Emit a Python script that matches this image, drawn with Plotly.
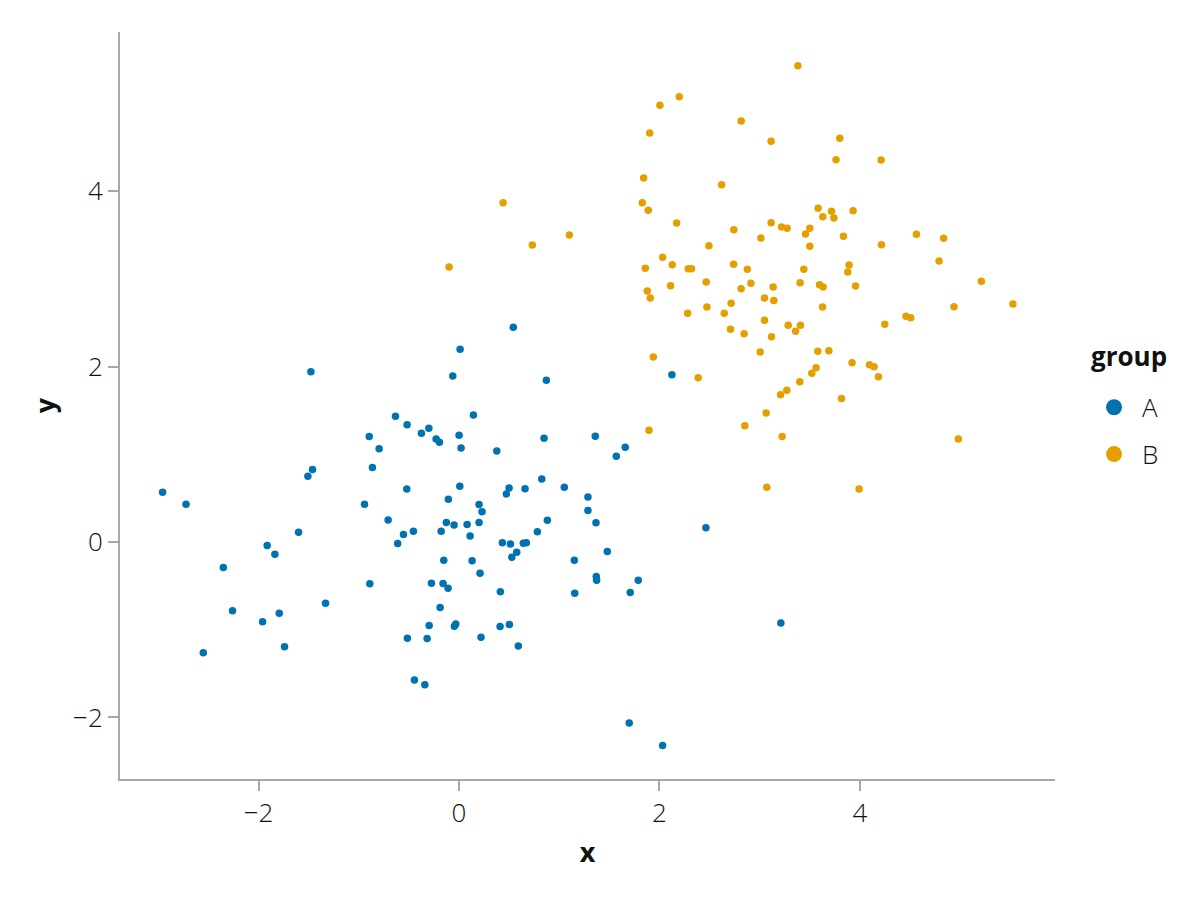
import plotly.graph_objects as go

# ---- data ----
a_x = [0.542, 0.011, -0.062, 0.872, 2.125, 0.144, -0.228, -0.195, 0.001, 0.021,
       0.849, 0.377, 1.360, 1.659, 1.570, 0.008, -0.106, 0.200, 0.500, 0.473,
       0.659, 0.826, 1.051, 1.287, 1.287, -1.478, -0.634, -0.518, -0.301, -0.375,
       -0.896, -0.797, -0.864, -1.462, -1.508, -0.521, -2.958, -2.724, -0.943, -0.707,
       -1.601, -0.554, -0.455, -0.178, -0.612, -1.914, -1.837, -2.352, -0.890, -0.275,
       -1.332, -2.260, -1.794, -1.960, -0.188, -0.298, -0.515, -0.318, -1.741, -2.552,
       -0.445, -0.341, 0.230, 1.367, -0.126, -0.049, 0.081, 0.200, 0.111, 0.433,
       0.513, 0.642, 0.672, 0.576, 0.527, 0.782, 0.882, 1.151, 1.480, -0.152,
       0.131, 0.210, -0.159, -0.109, 0.413, 1.155, 1.370, 1.374, 1.709, 1.789,
       -0.046, -0.032, 0.410, 0.503, 0.220, 0.592, 1.699, 2.032, 2.464, 3.212]
a_y = [2.447, 2.196, 1.892, 1.843, 1.907, 1.448, 1.175, 1.137, 1.217, 1.072,
       1.182, 1.038, 1.205, 1.080, 0.977, 0.636, 0.488, 0.426, 0.616, 0.548,
       0.608, 0.719, 0.624, 0.514, 0.360, 1.941, 1.433, 1.337, 1.296, 1.239,
       1.201, 1.064, 0.848, 0.825, 0.750, 0.605, 0.567, 0.431, 0.431, 0.252,
       0.112, 0.084, 0.123, 0.123, -0.016, -0.041, -0.139, -0.292, -0.477, -0.469,
       -0.697, -0.785, -0.811, -0.910, -0.747, -0.952, -1.096, -1.100, -1.195, -1.263,
       -1.574, -1.628, 0.346, 0.218, 0.221, 0.195, 0.198, 0.221, 0.069, -0.010,
       -0.022, -0.014, -0.010, -0.116, -0.173, 0.118, 0.248, -0.207, -0.109, -0.207,
       -0.215, -0.355, -0.474, -0.526, -0.568, -0.583, -0.394, -0.435, -0.576, -0.435,
       -0.959, -0.936, -0.964, -0.941, -1.085, -1.184, -2.064, -2.319, 0.161, -0.922]

b_x = [2.198, 2.005, 2.816, 1.903, 1.843, 2.621, 0.440, 1.829, 1.889, 2.172,
       2.743, 1.101, 0.732, 2.494, -0.099, 2.032, 2.128, 1.859, 2.288, 2.321,
       2.740, 2.878, 2.467, 2.112, 2.816, 2.913, 1.879, 1.909, 3.382, 3.115,
       3.800, 3.763, 4.212, 3.584, 3.631, 3.718, 3.741, 3.933, 3.115, 3.219,
       3.275, 3.501, 3.458, 3.013, 3.837, 4.565, 4.837, 3.501, 4.216, 4.791,
       3.441, 3.893, 3.880, 3.135, 3.404, 3.598, 3.634, 3.957, 5.213, 3.049,
       3.142, 3.628, 4.940, 5.528, 3.049, 3.285, 3.408, 3.359, 2.846, 3.119,
       4.249, 4.461, 4.508, 3.006, 3.581, 3.691, 3.923, 4.097, 4.142, 4.186,
       3.564, 3.521, 3.401, 3.272, 3.209, 3.817, 3.065, 2.853, 3.225, 4.984,
       3.072, 3.993, 2.282, 2.474, 2.716, 2.647, 2.710, 1.939, 2.387, 1.896]
b_y = [5.074, 4.976, 4.797, 4.660, 4.148, 4.072, 3.866, 3.866, 3.780, 3.635,
       3.559, 3.498, 3.385, 3.377, 3.134, 3.244, 3.160, 3.119, 3.115, 3.115,
       3.165, 3.108, 2.963, 2.921, 2.887, 2.948, 2.861, 2.781, 5.427, 4.566,
       4.600, 4.356, 4.353, 3.803, 3.707, 3.768, 3.692, 3.775, 3.639, 3.590,
       3.575, 3.575, 3.510, 3.464, 3.484, 3.506, 3.461, 3.370, 3.388, 3.202,
       3.108, 3.157, 3.077, 2.906, 2.955, 2.932, 2.906, 2.917, 2.971, 2.781,
       2.752, 2.678, 2.682, 2.712, 2.527, 2.470, 2.470, 2.401, 2.374, 2.340,
       2.481, 2.572, 2.556, 2.166, 2.174, 2.180, 2.044, 2.021, 1.998, 1.884,
       1.987, 1.923, 1.827, 1.729, 1.679, 1.634, 1.471, 1.326, 1.201, 1.175,
       0.624, 0.605, 2.606, 2.678, 2.720, 2.606, 2.424, 2.109, 1.873, 1.274]

groups = ["A", "B"]
group_colors = ["#0072B2", "#E69F00"]
tick_vals = [-2, 0, 2, 4]
x_range = [-3.383, 5.948]
y_range = [-2.701, 5.812]
legend_title = "group"

FONT = "Open Sans"
AXIS_COLOR = "#a8a8a8"
TEXT_COLOR = "#111111"

fig = go.Figure()
for g, c, xs, ys in zip(groups, group_colors, [a_x, b_x], [a_y, b_y]):
    fig.add_trace(go.Scatter(
        x=xs, y=ys, mode="markers", name=g, legendgroup=g, showlegend=False,
        marker=dict(size=7.5, color=c, line=dict(width=0)),
    ))
    fig.add_trace(go.Scatter(
        x=[None], y=[None], mode="markers", name=g, legendgroup=g,
        marker=dict(size=21, color=c, line=dict(width=0)),
    ))

axis_common = dict(
    showgrid=False, zeroline=False, showline=True, linecolor=AXIS_COLOR, linewidth=2,
    ticks="outside", ticklen=10, tickwidth=2, tickcolor=AXIS_COLOR,
    tickvals=tick_vals, tickfont=dict(family=FONT, size=26, color=TEXT_COLOR, weight=300),
    automargin=False,
)

fig.update_layout(
    width=1184, height=884,
    margin=dict(l=112, r=137, t=24, b=113, pad=0),
    paper_bgcolor="white", plot_bgcolor="white",
    font=dict(family=FONT, color=TEXT_COLOR),
    xaxis=dict(range=x_range,
               title=dict(text="<b>x</b>", font=dict(family=FONT, size=27, color=TEXT_COLOR), standoff=14),
               **axis_common),
    yaxis=dict(range=y_range,
               title=dict(text="<b>y</b>", font=dict(family=FONT, size=27, color=TEXT_COLOR), standoff=10),
               **axis_common),
    legend=dict(
        x=1.0332, y=0.529, xanchor="left", yanchor="top",
        font=dict(family=FONT, size=26, color=TEXT_COLOR, weight=300),
        itemsizing="trace", itemwidth=46, bgcolor="rgba(0,0,0,0)",
    ),
    annotations=[dict(
        text="<b>" + legend_title + "</b>", xref="paper", yref="paper",
        x=1.0791, y=0.5663, xanchor="center", yanchor="middle", showarrow=False,
        font=dict(family=FONT, size=26, color=TEXT_COLOR),
    )],
)

fig.write_html("out.html")
